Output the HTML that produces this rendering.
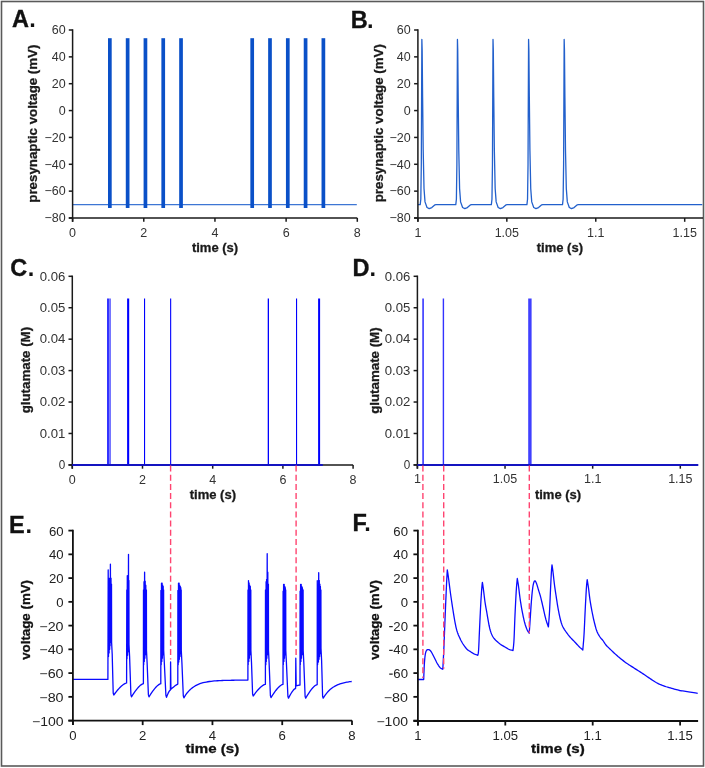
<!DOCTYPE html>
<html><head><meta charset="utf-8"><style>
html,body{margin:0;padding:0;background:#fff;}
svg{display:block;font-family:"Liberation Sans", sans-serif;}
svg{will-change:transform;}
</style></head><body>
<svg width="705" height="768" viewBox="0 0 705 768">
<rect width="705" height="768" fill="#fff"/>
<rect x="1.5" y="1.5" width="702" height="764.5" fill="none" stroke="#5a5a5a" stroke-width="1.6"/>
<line x1="72.6" y1="204.57" x2="356.8" y2="204.57" stroke="#3d76d4" stroke-width="1.25" />
<rect x="108" y="38.2" width="3.7" height="169.8" fill="#0a50c8"/>
<rect x="125.79" y="38.2" width="3.7" height="169.8" fill="#0a50c8"/>
<rect x="143.59" y="38.2" width="3.7" height="169.8" fill="#0a50c8"/>
<rect x="161.38" y="38.2" width="3.7" height="169.8" fill="#0a50c8"/>
<rect x="179.18" y="38.2" width="3.7" height="169.8" fill="#0a50c8"/>
<rect x="250.35" y="38.2" width="3.7" height="169.8" fill="#0a50c8"/>
<rect x="268.14" y="38.2" width="3.7" height="169.8" fill="#0a50c8"/>
<rect x="285.94" y="38.2" width="3.7" height="169.8" fill="#0a50c8"/>
<rect x="303.73" y="38.2" width="3.7" height="169.8" fill="#0a50c8"/>
<rect x="321.53" y="38.2" width="3.7" height="169.8" fill="#0a50c8"/>
<line x1="72.6" y1="29.25" x2="72.6" y2="221.8" stroke="#1a1a1a" stroke-width="1.5" />
<line x1="68.8" y1="218" x2="357.3" y2="218" stroke="#1a1a1a" stroke-width="1.5" />
<line x1="68.8" y1="30" x2="72.6" y2="30" stroke="#1a1a1a" stroke-width="1.5" />
<text x="65.6" y="34.3" font-size="12.5" text-anchor="end" font-weight="normal" fill="#333">60</text>
<line x1="68.8" y1="56.86" x2="72.6" y2="56.86" stroke="#1a1a1a" stroke-width="1.5" />
<text x="65.6" y="61.16" font-size="12.5" text-anchor="end" font-weight="normal" fill="#333">40</text>
<line x1="68.8" y1="83.71" x2="72.6" y2="83.71" stroke="#1a1a1a" stroke-width="1.5" />
<text x="65.6" y="88.01" font-size="12.5" text-anchor="end" font-weight="normal" fill="#333">20</text>
<line x1="68.8" y1="110.57" x2="72.6" y2="110.57" stroke="#1a1a1a" stroke-width="1.5" />
<text x="65.6" y="114.87" font-size="12.5" text-anchor="end" font-weight="normal" fill="#333">0</text>
<line x1="68.8" y1="137.43" x2="72.6" y2="137.43" stroke="#1a1a1a" stroke-width="1.5" />
<text x="65.6" y="141.73" font-size="12.5" text-anchor="end" font-weight="normal" fill="#333">−20</text>
<line x1="68.8" y1="164.29" x2="72.6" y2="164.29" stroke="#1a1a1a" stroke-width="1.5" />
<text x="65.6" y="168.59" font-size="12.5" text-anchor="end" font-weight="normal" fill="#333">−40</text>
<line x1="68.8" y1="191.14" x2="72.6" y2="191.14" stroke="#1a1a1a" stroke-width="1.5" />
<text x="65.6" y="195.44" font-size="12.5" text-anchor="end" font-weight="normal" fill="#333">−60</text>
<line x1="68.8" y1="218" x2="72.6" y2="218" stroke="#1a1a1a" stroke-width="1.5" />
<text x="65.6" y="222.3" font-size="12.5" text-anchor="end" font-weight="normal" fill="#333">−80</text>
<line x1="72.6" y1="218" x2="72.6" y2="221.8" stroke="#1a1a1a" stroke-width="1.5" />
<text x="72.6" y="236.8" font-size="12.5" text-anchor="middle" font-weight="normal" fill="#333">0</text>
<line x1="143.78" y1="218" x2="143.78" y2="221.8" stroke="#1a1a1a" stroke-width="1.5" />
<text x="143.78" y="236.8" font-size="12.5" text-anchor="middle" font-weight="normal" fill="#333">2</text>
<line x1="214.95" y1="218" x2="214.95" y2="221.8" stroke="#1a1a1a" stroke-width="1.5" />
<text x="214.95" y="236.8" font-size="12.5" text-anchor="middle" font-weight="normal" fill="#333">4</text>
<line x1="286.12" y1="218" x2="286.12" y2="221.8" stroke="#1a1a1a" stroke-width="1.5" />
<text x="286.12" y="236.8" font-size="12.5" text-anchor="middle" font-weight="normal" fill="#333">6</text>
<line x1="357.3" y1="218" x2="357.3" y2="221.8" stroke="#1a1a1a" stroke-width="1.5" />
<text x="357.3" y="236.8" font-size="12.5" text-anchor="middle" font-weight="normal" fill="#333">8</text>
<polyline points="417.9,204.57 420.21,204.57 420.81,199.2 421.31,164.29 421.66,83.71 421.86,39.4 422.16,50.14 422.61,97.14 423.21,150.86 424.01,188.46 425.01,201.89 427.01,207.53 429.21,208.6 431.81,207.53 435.01,204.84 436.01,204.57 455.79,204.57 456.39,199.2 456.89,164.29 457.24,83.71 457.44,39.4 457.74,50.14 458.19,97.14 458.79,150.86 459.59,188.46 460.59,201.89 462.59,207.53 464.79,208.6 467.39,207.53 470.59,204.84 471.59,204.57 491.36,204.57 491.96,199.2 492.46,164.29 492.81,83.71 493.01,39.4 493.31,50.14 493.76,97.14 494.36,150.86 495.16,188.46 496.16,201.89 498.16,207.53 500.36,208.6 502.96,207.53 506.16,204.84 507.16,204.57 526.93,204.57 527.53,199.2 528.03,164.29 528.38,83.71 528.58,39.4 528.88,50.14 529.33,97.14 529.93,150.86 530.73,188.46 531.73,201.89 533.73,207.53 535.93,208.6 538.53,207.53 541.73,204.84 542.73,204.57 562.51,204.57 563.11,199.2 563.61,164.29 563.96,83.71 564.16,39.4 564.46,50.14 564.91,97.14 565.51,150.86 566.31,188.46 567.31,201.89 569.31,207.53 571.51,208.6 574.11,207.53 577.31,204.84 578.31,204.57 702.3,204.57" fill="none" stroke="#2260cc" stroke-width="1.3" stroke-linejoin="round" />
<line x1="417.9" y1="29.25" x2="417.9" y2="221.8" stroke="#1a1a1a" stroke-width="1.5" />
<line x1="414.1" y1="218" x2="703" y2="218" stroke="#1a1a1a" stroke-width="1.5" />
<line x1="414.1" y1="30" x2="417.9" y2="30" stroke="#1a1a1a" stroke-width="1.5" />
<text x="410.6" y="34.3" font-size="12.5" text-anchor="end" font-weight="normal" fill="#333">60</text>
<line x1="414.1" y1="56.86" x2="417.9" y2="56.86" stroke="#1a1a1a" stroke-width="1.5" />
<text x="410.6" y="61.16" font-size="12.5" text-anchor="end" font-weight="normal" fill="#333">40</text>
<line x1="414.1" y1="83.71" x2="417.9" y2="83.71" stroke="#1a1a1a" stroke-width="1.5" />
<text x="410.6" y="88.01" font-size="12.5" text-anchor="end" font-weight="normal" fill="#333">20</text>
<line x1="414.1" y1="110.57" x2="417.9" y2="110.57" stroke="#1a1a1a" stroke-width="1.5" />
<text x="410.6" y="114.87" font-size="12.5" text-anchor="end" font-weight="normal" fill="#333">0</text>
<line x1="414.1" y1="137.43" x2="417.9" y2="137.43" stroke="#1a1a1a" stroke-width="1.5" />
<text x="410.6" y="141.73" font-size="12.5" text-anchor="end" font-weight="normal" fill="#333">−20</text>
<line x1="414.1" y1="164.29" x2="417.9" y2="164.29" stroke="#1a1a1a" stroke-width="1.5" />
<text x="410.6" y="168.59" font-size="12.5" text-anchor="end" font-weight="normal" fill="#333">−40</text>
<line x1="414.1" y1="191.14" x2="417.9" y2="191.14" stroke="#1a1a1a" stroke-width="1.5" />
<text x="410.6" y="195.44" font-size="12.5" text-anchor="end" font-weight="normal" fill="#333">−60</text>
<line x1="414.1" y1="218" x2="417.9" y2="218" stroke="#1a1a1a" stroke-width="1.5" />
<text x="410.6" y="222.3" font-size="12.5" text-anchor="end" font-weight="normal" fill="#333">−80</text>
<line x1="417.9" y1="218" x2="417.9" y2="221.8" stroke="#1a1a1a" stroke-width="1.5" />
<text x="417.9" y="236.8" font-size="12.5" text-anchor="middle" font-weight="normal" fill="#333">1</text>
<line x1="506.83" y1="218" x2="506.83" y2="221.8" stroke="#1a1a1a" stroke-width="1.5" />
<text x="506.83" y="236.8" font-size="12.5" text-anchor="middle" font-weight="normal" fill="#333">1.05</text>
<line x1="595.77" y1="218" x2="595.77" y2="221.8" stroke="#1a1a1a" stroke-width="1.5" />
<text x="595.77" y="236.8" font-size="12.5" text-anchor="middle" font-weight="normal" fill="#333">1.1</text>
<line x1="684.7" y1="218" x2="684.7" y2="221.8" stroke="#1a1a1a" stroke-width="1.5" />
<text x="684.7" y="236.8" font-size="12.5" text-anchor="middle" font-weight="normal" fill="#333">1.15</text>
<rect x="107" y="298.5" width="2.2" height="166.4" fill="#3333ff"/>
<rect x="109.2" y="298.5" width="1.7" height="166.4" fill="#6666ff"/>
<rect x="127.1" y="298.5" width="2.1" height="166.4" fill="#0000ff"/>
<rect x="144" y="298.5" width="1.1" height="166.4" fill="#0000ff"/>
<rect x="170.1" y="298.5" width="1.1" height="166.4" fill="#0000ff"/>
<rect x="267.7" y="298.5" width="1.3" height="166.4" fill="#0000ff"/>
<rect x="296" y="298.5" width="1.1" height="166.4" fill="#0000ff"/>
<rect x="318.1" y="298.5" width="2.0" height="166.4" fill="#0000ff"/>
<line x1="72.3" y1="275.55" x2="72.3" y2="468.7" stroke="#1a1a1a" stroke-width="1.5" />
<line x1="68.5" y1="464.9" x2="353.1" y2="464.9" stroke="#1a1a1a" stroke-width="1.5" />
<line x1="68.5" y1="276.3" x2="72.3" y2="276.3" stroke="#1a1a1a" stroke-width="1.5" />
<text x="65.3" y="280.6" font-size="12.5" text-anchor="end" font-weight="normal" fill="#333" textLength="25.6" lengthAdjust="spacingAndGlyphs">0.06</text>
<line x1="68.5" y1="307.73" x2="72.3" y2="307.73" stroke="#1a1a1a" stroke-width="1.5" />
<text x="65.3" y="312.03" font-size="12.5" text-anchor="end" font-weight="normal" fill="#333" textLength="25.6" lengthAdjust="spacingAndGlyphs">0.05</text>
<line x1="68.5" y1="339.17" x2="72.3" y2="339.17" stroke="#1a1a1a" stroke-width="1.5" />
<text x="65.3" y="343.47" font-size="12.5" text-anchor="end" font-weight="normal" fill="#333" textLength="25.6" lengthAdjust="spacingAndGlyphs">0.04</text>
<line x1="68.5" y1="370.6" x2="72.3" y2="370.6" stroke="#1a1a1a" stroke-width="1.5" />
<text x="65.3" y="374.9" font-size="12.5" text-anchor="end" font-weight="normal" fill="#333" textLength="25.6" lengthAdjust="spacingAndGlyphs">0.03</text>
<line x1="68.5" y1="402.03" x2="72.3" y2="402.03" stroke="#1a1a1a" stroke-width="1.5" />
<text x="65.3" y="406.33" font-size="12.5" text-anchor="end" font-weight="normal" fill="#333" textLength="25.6" lengthAdjust="spacingAndGlyphs">0.02</text>
<line x1="68.5" y1="433.47" x2="72.3" y2="433.47" stroke="#1a1a1a" stroke-width="1.5" />
<text x="65.3" y="437.77" font-size="12.5" text-anchor="end" font-weight="normal" fill="#333" textLength="25.6" lengthAdjust="spacingAndGlyphs">0.01</text>
<line x1="68.5" y1="464.9" x2="72.3" y2="464.9" stroke="#1a1a1a" stroke-width="1.5" />
<text x="65.3" y="469.2" font-size="12.5" text-anchor="end" font-weight="normal" fill="#333" textLength="6.5" lengthAdjust="spacingAndGlyphs">0</text>
<line x1="72.3" y1="464.9" x2="72.3" y2="468.7" stroke="#1a1a1a" stroke-width="1.5" />
<text x="72.3" y="483.6" font-size="12.5" text-anchor="middle" font-weight="normal" fill="#333">0</text>
<line x1="142.5" y1="464.9" x2="142.5" y2="468.7" stroke="#1a1a1a" stroke-width="1.5" />
<text x="142.5" y="483.6" font-size="12.5" text-anchor="middle" font-weight="normal" fill="#333">2</text>
<line x1="212.7" y1="464.9" x2="212.7" y2="468.7" stroke="#1a1a1a" stroke-width="1.5" />
<text x="212.7" y="483.6" font-size="12.5" text-anchor="middle" font-weight="normal" fill="#333">4</text>
<line x1="282.9" y1="464.9" x2="282.9" y2="468.7" stroke="#1a1a1a" stroke-width="1.5" />
<text x="282.9" y="483.6" font-size="12.5" text-anchor="middle" font-weight="normal" fill="#333">6</text>
<line x1="353.1" y1="464.9" x2="353.1" y2="468.7" stroke="#1a1a1a" stroke-width="1.5" />
<text x="353.1" y="483.6" font-size="12.5" text-anchor="middle" font-weight="normal" fill="#333">8</text>
<line x1="72.3" y1="464.9" x2="322.8" y2="464.9" stroke="#1414c0" stroke-width="2.0" />
<rect x="422.2" y="298.5" width="1.8" height="166.4" fill="#4d4dff"/>
<rect x="442.7" y="298.5" width="1.4" height="166.4" fill="#3333ff"/>
<rect x="528.2" y="298.5" width="3.4" height="166.4" fill="#4040ff"/>
<line x1="417.4" y1="275.55" x2="417.4" y2="468.7" stroke="#1a1a1a" stroke-width="1.5" />
<line x1="413.6" y1="464.9" x2="697.9" y2="464.9" stroke="#1a1a1a" stroke-width="1.5" />
<line x1="413.6" y1="276.3" x2="417.4" y2="276.3" stroke="#1a1a1a" stroke-width="1.5" />
<text x="410.3" y="280.6" font-size="12.5" text-anchor="end" font-weight="normal" fill="#333" textLength="25.6" lengthAdjust="spacingAndGlyphs">0.06</text>
<line x1="413.6" y1="307.73" x2="417.4" y2="307.73" stroke="#1a1a1a" stroke-width="1.5" />
<text x="410.3" y="312.03" font-size="12.5" text-anchor="end" font-weight="normal" fill="#333" textLength="25.6" lengthAdjust="spacingAndGlyphs">0.05</text>
<line x1="413.6" y1="339.17" x2="417.4" y2="339.17" stroke="#1a1a1a" stroke-width="1.5" />
<text x="410.3" y="343.47" font-size="12.5" text-anchor="end" font-weight="normal" fill="#333" textLength="25.6" lengthAdjust="spacingAndGlyphs">0.04</text>
<line x1="413.6" y1="370.6" x2="417.4" y2="370.6" stroke="#1a1a1a" stroke-width="1.5" />
<text x="410.3" y="374.9" font-size="12.5" text-anchor="end" font-weight="normal" fill="#333" textLength="25.6" lengthAdjust="spacingAndGlyphs">0.03</text>
<line x1="413.6" y1="402.03" x2="417.4" y2="402.03" stroke="#1a1a1a" stroke-width="1.5" />
<text x="410.3" y="406.33" font-size="12.5" text-anchor="end" font-weight="normal" fill="#333" textLength="25.6" lengthAdjust="spacingAndGlyphs">0.02</text>
<line x1="413.6" y1="433.47" x2="417.4" y2="433.47" stroke="#1a1a1a" stroke-width="1.5" />
<text x="410.3" y="437.77" font-size="12.5" text-anchor="end" font-weight="normal" fill="#333" textLength="25.6" lengthAdjust="spacingAndGlyphs">0.01</text>
<line x1="413.6" y1="464.9" x2="417.4" y2="464.9" stroke="#1a1a1a" stroke-width="1.5" />
<text x="410.3" y="469.2" font-size="12.5" text-anchor="end" font-weight="normal" fill="#333" textLength="6.5" lengthAdjust="spacingAndGlyphs">0</text>
<line x1="417.4" y1="464.9" x2="417.4" y2="468.7" stroke="#1a1a1a" stroke-width="1.5" />
<text x="417.4" y="483.3" font-size="12.5" text-anchor="middle" font-weight="normal" fill="#333">1</text>
<line x1="505.03" y1="464.9" x2="505.03" y2="468.7" stroke="#1a1a1a" stroke-width="1.5" />
<text x="505.03" y="483.3" font-size="12.5" text-anchor="middle" font-weight="normal" fill="#333">1.05</text>
<line x1="592.67" y1="464.9" x2="592.67" y2="468.7" stroke="#1a1a1a" stroke-width="1.5" />
<text x="592.67" y="483.3" font-size="12.5" text-anchor="middle" font-weight="normal" fill="#333">1.1</text>
<line x1="680.3" y1="464.9" x2="680.3" y2="468.7" stroke="#1a1a1a" stroke-width="1.5" />
<text x="680.3" y="483.3" font-size="12.5" text-anchor="middle" font-weight="normal" fill="#333">1.15</text>
<line x1="417.4" y1="464.9" x2="698.3" y2="464.9" stroke="#1414c0" stroke-width="2.0" />
<polyline points="72.9,679.4 107.9,679.4 108.2,569.79 108.5,656.48 108.8,578.1 109.1,652.91 109.4,580.48 109.7,649.35 110,578.1 110.1,645.79 110.4,564.21 110.7,642.23 111,578.1 111.2,638.66 111.5,584.04 111.6,642.23 112.2,654.23 113.2,693 113.8,695 115.08,693.25 116.36,691.59 117.64,690.03 118.92,688.58 120.2,687.24 121.48,686.04 122.76,684.97 124.04,684.07 125.32,683.38 126.6,683 126.6,683 126.8,589.98 127,658.85 127.3,575.73 127.6,655.29 127.9,578.1 128.2,651.73 128.5,554.35 128.6,648.16 128.9,580.48 129,644.6 129.6,656.6 130.9,694.8 131.5,696.8 132.69,694.88 133.88,693.07 135.07,691.37 136.26,689.79 137.45,688.33 138.64,687.01 139.83,685.85 141.02,684.87 142.21,684.11 143.4,683.7 143.4,683.7 143.5,589.98 143.7,664.79 144,581.66 144.3,661.46 144.6,572.16 144.9,658.14 145.2,581.19 145.5,654.81 145.8,585.23 146.1,651.49 146.4,589.98 146.5,650.54 147.1,662.54 148.4,694.9 149,696.9 150.18,694.97 151.36,693.15 152.54,691.43 153.72,689.83 154.9,688.37 156.08,687.04 157.26,685.87 158.44,684.88 159.62,684.12 160.8,683.7 160.8,683.7 160.9,590.45 161.2,664.79 161.5,583.09 161.8,661.46 162.1,583.09 162.4,658.14 162.7,585.23 162.9,654.81 163.2,586.41 163.3,651.49 163.6,589.98 163.7,650.54 164.3,662.54 165.9,695.3 166.5,697.3 167.28,695.22 168.06,693.39 168.84,691.85 169.62,690.65 170.4,690 170.6,662 170.9,689.3 172.28,688.08 173.66,686.92 175.04,685.83 176.42,684.85 177.8,684.1 177.8,684.1 177.9,590.45 178.2,664.79 178.5,583.09 178.8,662.02 179.1,583.09 179.4,659.25 179.7,585.23 180,656.48 180.3,586.41 180.5,653.7 180.8,587.6 180.9,650.93 181.2,589.98 181.3,650.54 181.9,662.54 183.3,695.8 183.9,697.8 185.5,695.21 187.1,692.99 188.7,691.1 190.3,689.49 191.9,688.12 193.5,686.94 195.1,685.94 196.7,685.08 198.3,684.35 199.9,683.73 201.5,683.2 203.1,682.74 204.7,682.36 206.3,682.03 207.9,681.74 209.5,681.5 211.1,681.3 212.7,681.12 214.3,680.97 215.9,680.84 217.5,680.74 219.1,680.64 220.7,680.56 222.3,680.5 223.9,680.44 225.5,680.39 227.1,680.35 228.7,680.31 230.3,680.28 231.9,680.25 233.5,680.23 235.1,680.21 236.7,680.19 238.3,680.18 239.9,680.17 241.5,680.16 243.1,680.15 244.7,680.14 246.3,680.14 247.9,680.1 248,589.98 248.2,664.79 248.5,580.59 248.8,661.46 249.1,582.85 249.4,658.14 249.7,585.23 250,654.81 250.3,586.41 250.5,651.49 250.8,589.98 250.9,650.54 251.5,662.54 252.6,694 253.2,696 254.42,694.29 255.64,692.67 256.86,691.15 258.08,689.74 259.3,688.44 260.52,687.26 261.74,686.22 262.96,685.35 264.18,684.67 265.4,684.3 265.4,684.3 265.5,589.98 265.8,664.79 266.1,581.66 266.3,661.46 266.6,579.29 266.9,658.14 267.2,553.64 267.5,654.81 267.8,572.16 268.1,651.49 268.4,584.04 268.5,650.54 269.1,662.54 270.4,695.6 271,697.6 272.2,695.66 273.4,693.82 274.6,692.09 275.8,690.48 277,689 278.2,687.66 279.4,686.49 280.6,685.49 281.8,684.72 283,684.3 283,684.3 283.1,591.16 283.3,664.79 283.6,584.28 283.9,661.46 284.2,584.28 284.5,658.14 284.8,586.41 285,654.81 285.3,587.6 285.4,651.49 285.7,589.98 285.8,650.54 286.4,662.54 287.9,696.2 288.5,698.2 289.68,695.86 290.87,693.73 292.05,691.86 293.23,690.29 294.42,689.07 295.6,688.4 295.8,658.2 296.2,685.9 298,685.3 300,685 300,685 300.1,591.16 300.3,664.79 300.6,584.28 300.9,661.46 301.2,584.28 301.5,658.14 301.8,586.41 302.1,654.81 302.4,587.6 302.8,651.49 303.1,589.98 303.2,650.54 303.8,662.54 305.1,696.2 305.7,698.2 306.85,696.21 308,694.33 309.15,692.57 310.3,690.92 311.45,689.41 312.6,688.04 313.75,686.83 314.9,685.82 316.05,685.03 317.2,684.6 317.2,684.6 317.3,580.59 317.6,664.79 317.9,584.04 318.4,662.02 318.7,572.64 319,659.25 319.3,580.48 319.6,656.48 319.9,584.04 320.1,653.7 320.4,586.41 320.6,650.93 320.9,589.98 321,648.16 321.6,660.16 322.6,696.2 323.2,698.2 324.18,696.6 325.17,695.14 326.15,693.82 327.13,692.61 328.11,691.51 329.1,690.51 330.08,689.6 331.06,688.77 332.04,688.01 333.03,687.32 334.01,686.69 334.99,686.12 335.98,685.6 336.96,685.13 337.94,684.7 338.92,684.3 339.91,683.95 340.89,683.62 341.87,683.32 342.86,683.05 343.84,682.81 344.82,682.58 345.8,682.38 346.79,682.19 347.77,682.02 348.75,681.87 349.73,681.73 350.72,681.6 351.7,681.49" fill="none" stroke="#0a0aff" stroke-width="1.3" stroke-linejoin="round" />
<line x1="72.9" y1="529.7" x2="72.9" y2="725.1" stroke="#111" stroke-width="1.8" />
<line x1="68.4" y1="720.6" x2="352" y2="720.6" stroke="#111" stroke-width="1.8" />
<line x1="68.4" y1="530.6" x2="72.9" y2="530.6" stroke="#111" stroke-width="1.8" />
<text x="63.6" y="535.6" font-size="12.2" text-anchor="end" font-weight="normal" fill="#222" textLength="14.63" lengthAdjust="spacingAndGlyphs">60</text>
<line x1="68.4" y1="554.35" x2="72.9" y2="554.35" stroke="#111" stroke-width="1.8" />
<text x="63.6" y="559.35" font-size="12.2" text-anchor="end" font-weight="normal" fill="#222" textLength="14.63" lengthAdjust="spacingAndGlyphs">40</text>
<line x1="68.4" y1="578.1" x2="72.9" y2="578.1" stroke="#111" stroke-width="1.8" />
<text x="63.6" y="583.1" font-size="12.2" text-anchor="end" font-weight="normal" fill="#222" textLength="14.63" lengthAdjust="spacingAndGlyphs">20</text>
<line x1="68.4" y1="601.85" x2="72.9" y2="601.85" stroke="#111" stroke-width="1.8" />
<text x="63.6" y="606.85" font-size="12.2" text-anchor="end" font-weight="normal" fill="#222" textLength="7.31" lengthAdjust="spacingAndGlyphs">0</text>
<line x1="68.4" y1="625.6" x2="72.9" y2="625.6" stroke="#111" stroke-width="1.8" />
<text x="63.6" y="630.6" font-size="12.2" text-anchor="end" font-weight="normal" fill="#222" textLength="24.26" lengthAdjust="spacingAndGlyphs">−20</text>
<line x1="68.4" y1="649.35" x2="72.9" y2="649.35" stroke="#111" stroke-width="1.8" />
<text x="63.6" y="654.35" font-size="12.2" text-anchor="end" font-weight="normal" fill="#222" textLength="24.26" lengthAdjust="spacingAndGlyphs">−40</text>
<line x1="68.4" y1="673.1" x2="72.9" y2="673.1" stroke="#111" stroke-width="1.8" />
<text x="63.6" y="678.1" font-size="12.2" text-anchor="end" font-weight="normal" fill="#222" textLength="24.26" lengthAdjust="spacingAndGlyphs">−60</text>
<line x1="68.4" y1="696.85" x2="72.9" y2="696.85" stroke="#111" stroke-width="1.8" />
<text x="63.6" y="701.85" font-size="12.2" text-anchor="end" font-weight="normal" fill="#222" textLength="24.26" lengthAdjust="spacingAndGlyphs">−80</text>
<line x1="68.4" y1="720.6" x2="72.9" y2="720.6" stroke="#111" stroke-width="1.8" />
<text x="63.6" y="725.6" font-size="12.2" text-anchor="end" font-weight="normal" fill="#222" textLength="31.58" lengthAdjust="spacingAndGlyphs">−100</text>
<line x1="72.9" y1="720.6" x2="72.9" y2="725.1" stroke="#111" stroke-width="1.8" />
<text x="72.9" y="739.7" font-size="12.2" text-anchor="middle" font-weight="normal" fill="#222" textLength="7.31" lengthAdjust="spacingAndGlyphs">0</text>
<line x1="142.68" y1="720.6" x2="142.68" y2="725.1" stroke="#111" stroke-width="1.8" />
<text x="142.68" y="739.7" font-size="12.2" text-anchor="middle" font-weight="normal" fill="#222" textLength="7.31" lengthAdjust="spacingAndGlyphs">2</text>
<line x1="212.45" y1="720.6" x2="212.45" y2="725.1" stroke="#111" stroke-width="1.8" />
<text x="212.45" y="739.7" font-size="12.2" text-anchor="middle" font-weight="normal" fill="#222" textLength="7.31" lengthAdjust="spacingAndGlyphs">4</text>
<line x1="282.23" y1="720.6" x2="282.23" y2="725.1" stroke="#111" stroke-width="1.8" />
<text x="282.23" y="739.7" font-size="12.2" text-anchor="middle" font-weight="normal" fill="#222" textLength="7.31" lengthAdjust="spacingAndGlyphs">6</text>
<line x1="352" y1="720.6" x2="352" y2="725.1" stroke="#111" stroke-width="1.8" />
<text x="352" y="739.7" font-size="12.2" text-anchor="middle" font-weight="normal" fill="#222" textLength="7.31" lengthAdjust="spacingAndGlyphs">8</text>
<polyline points="417.9,679.5 418.6,679.5 419.62,679.5 420.8,679.5 421.98,679.5 423,679.5 423.7,679.5 423.76,677.87 423.84,675.57 423.94,672.88 424.06,670.04 424.18,667.32 424.3,665 424.43,663.01 424.56,661.13 424.71,659.38 424.86,657.76 425.02,656.3 425.2,655 425.38,653.89 425.57,652.96 425.77,652.18 425.99,651.53 426.23,650.98 426.5,650.5 426.81,650.11 427.16,649.83 427.54,649.65 427.93,649.56 428.32,649.55 428.7,649.6 429.07,649.71 429.43,649.89 429.8,650.15 430.18,650.5 430.57,650.94 431,651.5 431.46,652.2 431.95,653.05 432.46,653.99 432.97,655 433.49,656.01 434,657 434.5,657.99 435,659.02 435.5,660.06 436,661.09 436.5,662.08 437,663 437.5,663.87 438.01,664.71 438.51,665.52 439.01,666.26 439.51,666.93 440,667.5 440.51,667.97 441.05,668.34 441.59,668.63 442.08,668.86 442.5,669.05 442.8,669.2 442.91,667.24 443.05,664.62 443.22,661.48 443.41,657.91 443.61,654.05 443.8,650 443.98,645.68 444.17,640.99 444.37,635.99 444.57,630.77 444.78,625.41 445,620 445.24,614.23 445.5,607.97 445.77,601.57 446.04,595.39 446.29,589.75 446.5,585 446.68,581.14 446.85,577.9 446.99,575.21 447.12,573.01 447.22,571.22 447.3,569.8 447.42,570.57 447.56,571.53 447.74,572.71 447.96,574.16 448.21,575.91 448.5,578 448.83,580.5 449.2,583.39 449.6,586.58 450.04,589.97 450.5,593.48 451,597 451.55,600.74 452.16,604.81 452.81,609 453.45,613.07 454.06,616.81 454.6,620 455.07,622.58 455.48,624.71 455.86,626.51 456.22,628.09 456.6,629.55 457,631 457.43,632.38 457.86,633.6 458.29,634.7 458.74,635.73 459.21,636.75 459.7,637.8 460.21,638.88 460.73,639.95 461.27,641 461.83,642.03 462.4,643.03 463,644 463.64,644.96 464.32,645.92 465.02,646.85 465.71,647.73 466.38,648.52 467,649.2 467.55,649.74 468.04,650.15 468.5,650.48 468.96,650.76 469.45,651.06 470,651.4 470.61,651.8 471.27,652.22 471.95,652.64 472.64,653.06 473.33,653.45 474,653.8 474.69,654.12 475.42,654.42 476.15,654.7 476.82,654.94 477.39,655.15 477.8,655.3 477.89,654.89 478,654.47 478.14,653.9 478.3,653.05 478.45,651.8 478.6,650 478.74,647.58 478.88,644.61 479.03,641.23 479.17,637.58 479.33,633.79 479.5,630 479.68,626.03 479.88,621.74 480.09,617.31 480.3,612.93 480.5,608.76 480.7,605 480.89,601.57 481.09,598.32 481.29,595.29 481.47,592.53 481.65,590.08 481.8,588 481.94,586.34 482.06,585.08 482.17,584.14 482.26,583.43 482.34,582.88 482.4,582.4 482.52,583.18 482.67,584.21 482.86,585.45 483.06,586.86 483.28,588.39 483.5,590 483.72,591.76 483.96,593.71 484.2,595.79 484.46,597.91 484.72,600.01 485,602 485.29,603.85 485.58,605.62 485.88,607.36 486.2,609.13 486.54,610.99 486.9,613 487.29,615.27 487.72,617.77 488.16,620.36 488.61,622.9 489.06,625.26 489.5,627.3 489.92,629 490.32,630.47 490.73,631.76 491.13,632.91 491.56,633.98 492,635 492.45,635.94 492.89,636.74 493.34,637.45 493.83,638.12 494.38,638.79 495,639.5 495.72,640.27 496.52,641.06 497.38,641.84 498.26,642.61 499.14,643.34 500,644 500.84,644.59 501.7,645.14 502.56,645.64 503.41,646.11 504.22,646.56 505,647 505.72,647.44 506.41,647.86 507.06,648.26 507.7,648.64 508.34,648.99 509,649.3 509.71,649.58 510.48,649.83 511.25,650.04 511.96,650.23 512.56,650.38 513,650.5 513.11,649.53 513.26,648.31 513.44,646.81 513.63,644.96 513.82,642.71 514,640 514.16,636.67 514.32,632.74 514.48,628.41 514.64,623.87 514.82,619.33 515,615 515.2,610.68 515.42,606.17 515.65,601.66 515.88,597.33 516.1,593.39 516.3,590 516.5,587.17 516.69,584.74 516.88,582.69 517.05,580.98 517.19,579.59 517.3,578.5 517.43,579.26 517.6,580.28 517.81,581.5 518.03,582.89 518.27,584.4 518.5,586 518.73,587.73 518.96,589.65 519.2,591.69 519.45,593.8 519.72,595.92 520,598 520.3,600.05 520.61,602.13 520.94,604.22 521.28,606.31 521.63,608.38 522,610.4 522.39,612.43 522.8,614.48 523.22,616.51 523.65,618.47 524.08,620.31 524.5,622 524.92,623.53 525.34,624.94 525.77,626.24 526.19,627.43 526.6,628.52 527,629.5 527.41,630.38 527.84,631.15 528.26,631.82 528.64,632.38 528.96,632.84 529.2,633.2 529.28,632.11 529.38,630.7 529.51,628.98 529.65,626.95 529.82,624.62 530,622 530.21,618.87 530.45,615.17 530.71,611.17 530.97,607.14 531.24,603.33 531.5,600 531.75,597.1 531.99,594.41 532.24,591.94 532.49,589.71 532.74,587.73 533,586 533.27,584.55 533.55,583.36 533.83,582.41 534.12,581.7 534.41,581.2 534.7,580.9 534.99,580.84 535.29,581.05 535.58,581.47 535.88,582.06 536.19,582.75 536.5,583.5 536.82,584.35 537.15,585.36 537.48,586.48 537.82,587.66 538.16,588.85 538.5,590 538.84,591.09 539.18,592.15 539.53,593.22 539.87,594.35 540.23,595.56 540.6,596.9 540.98,598.4 541.38,600.03 541.79,601.74 542.2,603.51 542.6,605.27 543,607 543.4,608.75 543.8,610.56 544.19,612.37 544.58,614.12 544.95,615.75 545.3,617.2 545.62,618.44 545.92,619.53 546.21,620.49 546.48,621.37 546.74,622.19 547,623 547.27,623.81 547.54,624.59 547.81,625.31 548.05,625.96 548.25,626.5 548.4,626.9 548.52,625.36 548.69,623.3 548.89,620.82 549.1,618.04 549.31,615.07 549.5,612 549.67,608.7 549.84,605.04 550.01,601.19 550.18,597.3 550.34,593.52 550.5,590 550.66,586.64 550.82,583.3 550.97,580.07 551.13,577.05 551.27,574.33 551.4,572 551.52,570.09 551.64,568.53 551.76,567.27 551.86,566.27 551.94,565.46 552,564.8 552.1,565.52 552.24,566.45 552.41,567.59 552.59,568.9 552.79,570.38 553,572 553.22,573.84 553.45,575.94 553.7,578.21 553.96,580.53 554.23,582.83 554.5,585 554.78,587.06 555.06,589.08 555.36,591.07 555.66,593.03 555.96,594.98 556.25,596.9 556.54,598.8 556.82,600.67 557.1,602.52 557.38,604.36 557.68,606.18 558,608 558.34,609.85 558.7,611.74 559.07,613.62 559.44,615.44 559.82,617.16 560.2,618.75 560.57,620.18 560.93,621.5 561.29,622.72 561.67,623.86 562.07,624.95 562.5,626 562.96,626.98 563.43,627.88 563.92,628.72 564.44,629.54 565,630.37 565.6,631.25 566.25,632.19 566.95,633.15 567.68,634.13 568.44,635.11 569.22,636.07 570,637 570.81,637.91 571.66,638.81 572.52,639.69 573.39,640.55 574.22,641.39 575,642.2 575.73,642.98 576.41,643.73 577.07,644.46 577.72,645.16 578.36,645.84 579,646.5 579.69,647.17 580.42,647.86 581.15,648.52 581.82,649.12 582.39,649.63 582.8,650 582.93,648.48 583.11,646.48 583.32,644.06 583.56,641.3 583.79,638.25 584,635 584.2,631.38 584.4,627.3 584.6,622.94 584.8,618.48 585,614.11 585.2,610 585.4,606 585.61,601.94 585.83,597.96 586.03,594.21 586.22,590.84 586.4,588 586.57,585.73 586.73,583.91 586.88,582.48 587.01,581.34 587.12,580.44 587.2,579.7 587.34,580.56 587.53,581.71 587.76,583.1 588,584.65 588.26,586.31 588.5,588 588.73,589.78 588.96,591.71 589.19,593.74 589.44,595.83 589.71,597.93 590,600 590.33,602.08 590.68,604.2 591.05,606.34 591.43,608.46 591.82,610.53 592.2,612.5 592.58,614.39 592.96,616.23 593.34,618.02 593.72,619.74 594.11,621.4 594.5,623 594.89,624.53 595.27,626.01 595.65,627.42 596.04,628.77 596.46,630.05 596.9,631.25 597.38,632.38 597.89,633.44 598.42,634.43 598.96,635.36 599.49,636.21 600,637 600.48,637.68 600.94,638.23 601.39,638.72 601.85,639.19 602.31,639.7 602.8,640.3 603.29,641 603.79,641.77 604.29,642.57 604.81,643.39 605.38,644.21 606,645 606.65,645.75 607.33,646.46 608.04,647.16 608.81,647.9 609.66,648.7 610.6,649.6 611.66,650.62 612.83,651.75 614.08,652.94 615.37,654.15 616.69,655.35 618,656.5 619.33,657.61 620.69,658.72 622.07,659.81 623.47,660.88 624.85,661.91 626.2,662.9 627.52,663.83 628.83,664.7 630.12,665.54 631.41,666.36 632.7,667.17 634,668 635.3,668.83 636.59,669.66 637.87,670.48 639.17,671.3 640.48,672.14 641.8,673 643.15,673.9 644.53,674.83 645.92,675.77 647.31,676.71 648.67,677.62 650,678.5 651.28,679.35 652.52,680.19 653.74,681 654.95,681.78 656.16,682.52 657.4,683.2 658.65,683.82 659.9,684.38 661.16,684.89 662.43,685.38 663.71,685.84 665,686.3 666.32,686.75 667.67,687.17 669.04,687.58 670.39,687.97 671.72,688.34 673,688.7 674.21,689.04 675.35,689.36 676.46,689.67 677.59,689.96 678.75,690.24 680,690.5 681.33,690.74 682.73,690.96 684.17,691.17 685.64,691.37 687.12,691.58 688.6,691.8 690.19,692.06 691.93,692.34 693.69,692.63 695.32,692.9 696.7,693.13 697.7,693.3" fill="none" stroke="#0a0aff" stroke-width="1.3" stroke-linejoin="round" />
<rect x="389.2" y="626" width="3.5" height="1.25" fill="#222"/>
<rect x="389.2" y="649.75" width="3.5" height="1.25" fill="#222"/>
<rect x="389.2" y="673.5" width="3.5" height="1.25" fill="#222"/>
<line x1="417.9" y1="529.7" x2="417.9" y2="725.5" stroke="#111" stroke-width="1.8" />
<line x1="413.4" y1="721" x2="698.1" y2="721" stroke="#111" stroke-width="1.8" />
<line x1="413.4" y1="530.6" x2="417.9" y2="530.6" stroke="#111" stroke-width="1.8" />
<text x="408" y="535.6" font-size="12.2" text-anchor="end" font-weight="normal" fill="#222" textLength="14.63" lengthAdjust="spacingAndGlyphs">60</text>
<line x1="413.4" y1="554.35" x2="417.9" y2="554.35" stroke="#111" stroke-width="1.8" />
<text x="408" y="559.35" font-size="12.2" text-anchor="end" font-weight="normal" fill="#222" textLength="14.63" lengthAdjust="spacingAndGlyphs">40</text>
<line x1="413.4" y1="578.1" x2="417.9" y2="578.1" stroke="#111" stroke-width="1.8" />
<text x="408" y="583.1" font-size="12.2" text-anchor="end" font-weight="normal" fill="#222" textLength="14.63" lengthAdjust="spacingAndGlyphs">20</text>
<line x1="413.4" y1="601.85" x2="417.9" y2="601.85" stroke="#111" stroke-width="1.8" />
<text x="408" y="606.85" font-size="12.2" text-anchor="end" font-weight="normal" fill="#222" textLength="7.31" lengthAdjust="spacingAndGlyphs">0</text>
<line x1="413.4" y1="625.6" x2="417.9" y2="625.6" stroke="#111" stroke-width="1.8" />
<text x="408" y="630.6" font-size="12.2" text-anchor="end" font-weight="normal" fill="#222" textLength="14.63" lengthAdjust="spacingAndGlyphs">20</text>
<line x1="413.4" y1="649.35" x2="417.9" y2="649.35" stroke="#111" stroke-width="1.8" />
<text x="408" y="654.35" font-size="12.2" text-anchor="end" font-weight="normal" fill="#222" textLength="14.63" lengthAdjust="spacingAndGlyphs">40</text>
<line x1="413.4" y1="673.1" x2="417.9" y2="673.1" stroke="#111" stroke-width="1.8" />
<text x="408" y="678.1" font-size="12.2" text-anchor="end" font-weight="normal" fill="#222" textLength="14.63" lengthAdjust="spacingAndGlyphs">60</text>
<line x1="413.4" y1="696.85" x2="417.9" y2="696.85" stroke="#111" stroke-width="1.8" />
<text x="408" y="701.85" font-size="12.2" text-anchor="end" font-weight="normal" fill="#222" textLength="24.26" lengthAdjust="spacingAndGlyphs">−80</text>
<line x1="413.4" y1="720.6" x2="417.9" y2="720.6" stroke="#111" stroke-width="1.8" />
<text x="408" y="725.6" font-size="12.2" text-anchor="end" font-weight="normal" fill="#222" textLength="31.58" lengthAdjust="spacingAndGlyphs">−100</text>
<line x1="417.9" y1="721" x2="417.9" y2="725.5" stroke="#111" stroke-width="1.8" />
<text x="417.9" y="739.8" font-size="12.2" text-anchor="middle" font-weight="normal" fill="#222" textLength="7.31" lengthAdjust="spacingAndGlyphs">1</text>
<line x1="505.3" y1="721" x2="505.3" y2="725.5" stroke="#111" stroke-width="1.8" />
<text x="505.3" y="739.8" font-size="12.2" text-anchor="middle" font-weight="normal" fill="#222" textLength="25.6" lengthAdjust="spacingAndGlyphs">1.05</text>
<line x1="592.7" y1="721" x2="592.7" y2="725.5" stroke="#111" stroke-width="1.8" />
<text x="592.7" y="739.8" font-size="12.2" text-anchor="middle" font-weight="normal" fill="#222" textLength="18.28" lengthAdjust="spacingAndGlyphs">1.1</text>
<line x1="680.1" y1="721" x2="680.1" y2="725.5" stroke="#111" stroke-width="1.8" />
<text x="680.1" y="739.8" font-size="12.2" text-anchor="middle" font-weight="normal" fill="#222" textLength="25.6" lengthAdjust="spacingAndGlyphs">1.15</text>
<line x1="170.6" y1="465.6" x2="170.6" y2="659.5" stroke="#ff4470" stroke-width="1.4" stroke-dasharray="6 3.17"/>
<line x1="296.1" y1="465.6" x2="296.1" y2="655.5" stroke="#ff4470" stroke-width="1.4" stroke-dasharray="6 3.17"/>
<line x1="422.9" y1="465.6" x2="422.9" y2="678" stroke="#ff4470" stroke-width="1.4" stroke-dasharray="6 3.17"/>
<line x1="443.7" y1="465.6" x2="443.7" y2="668.8" stroke="#ff4470" stroke-width="1.4" stroke-dasharray="6 3.17"/>
<line x1="529.3" y1="465.6" x2="529.3" y2="633" stroke="#ff4470" stroke-width="1.4" stroke-dasharray="6 3.17"/>
<text x="212.4" y="752.8" font-size="12.2" text-anchor="middle" font-weight="bold" fill="#111" textLength="53.6" lengthAdjust="spacingAndGlyphs" stroke="#111" stroke-width="0.3">time (s)</text>
<text x="557.9" y="752.8" font-size="12.2" text-anchor="middle" font-weight="bold" fill="#111" textLength="53.6" lengthAdjust="spacingAndGlyphs" stroke="#111" stroke-width="0.3">time (s)</text>
<text x="30" y="619.9" font-size="13.3" text-anchor="middle" font-weight="bold" fill="#111" transform="rotate(-90 30 619.9)" stroke="#111" stroke-width="0.3">voltage (mV)</text>
<text x="378.6" y="619.9" font-size="13.3" text-anchor="middle" font-weight="bold" fill="#111" transform="rotate(-90 378.6 619.9)" stroke="#111" stroke-width="0.3">voltage (mV)</text>
<text x="11.9" y="27" font-size="23.5" font-weight="bold" fill="#111" stroke="#111" stroke-width="0.35">A</text>
<text x="29.2" y="27" font-size="23.5" font-weight="bold" fill="#111">.</text>
<text x="350.8" y="27.8" font-size="23.5" font-weight="bold" fill="#111" stroke="#111" stroke-width="0.35">B</text>
<text x="367" y="27.8" font-size="23.5" font-weight="bold" fill="#111">.</text>
<text x="10.3" y="276" font-size="23.5" font-weight="bold" fill="#111" stroke="#111" stroke-width="0.35">C</text>
<text x="27.7" y="276" font-size="23.5" font-weight="bold" fill="#111">.</text>
<text x="352.45" y="276" font-size="23.5" font-weight="bold" fill="#111" stroke="#111" stroke-width="0.35">D</text>
<text x="369.6" y="276" font-size="23.5" font-weight="bold" fill="#111">.</text>
<text x="9.05" y="532.9" font-size="23.5" font-weight="bold" fill="#111" stroke="#111" stroke-width="0.35">E</text>
<text x="25.4" y="532.9" font-size="23.5" font-weight="bold" fill="#111">.</text>
<text x="352.45" y="531.2" font-size="23.5" font-weight="bold" fill="#111" stroke="#111" stroke-width="0.35">F</text>
<text x="364.3" y="531.2" font-size="23.5" font-weight="bold" fill="#111">.</text>
<text x="215" y="252" font-size="13" text-anchor="middle" font-weight="bold" fill="#1a1a1a" stroke="#1a1a1a" stroke-width="0.3">time (s)</text>
<text x="559.9" y="252" font-size="13" text-anchor="middle" font-weight="bold" fill="#1a1a1a" stroke="#1a1a1a" stroke-width="0.3">time (s)</text>
<text x="212.9" y="499.2" font-size="13" text-anchor="middle" font-weight="bold" fill="#1a1a1a" stroke="#1a1a1a" stroke-width="0.3">time (s)</text>
<text x="558" y="499.2" font-size="13" text-anchor="middle" font-weight="bold" fill="#1a1a1a" stroke="#1a1a1a" stroke-width="0.3">time (s)</text>
<text x="37.4" y="123.65" font-size="13.3" text-anchor="middle" font-weight="bold" fill="#1a1a1a" transform="rotate(-90 37.4 123.65)" stroke="#1a1a1a" stroke-width="0.3">presynaptic voltage (mV)</text>
<text x="382.7" y="123.2" font-size="13.3" text-anchor="middle" font-weight="bold" fill="#1a1a1a" transform="rotate(-90 382.7 123.2)" stroke="#1a1a1a" stroke-width="0.3">presynaptic voltage (mV)</text>
<text x="30.5" y="370.1" font-size="13.3" text-anchor="middle" font-weight="bold" fill="#1a1a1a" transform="rotate(-90 30.5 370.1)" stroke="#1a1a1a" stroke-width="0.3">glutamate (M)</text>
<text x="378.6" y="370.6" font-size="13.3" text-anchor="middle" font-weight="bold" fill="#1a1a1a" transform="rotate(-90 378.6 370.6)" stroke="#1a1a1a" stroke-width="0.3">glutamate (M)</text>
</svg>
</body></html>
